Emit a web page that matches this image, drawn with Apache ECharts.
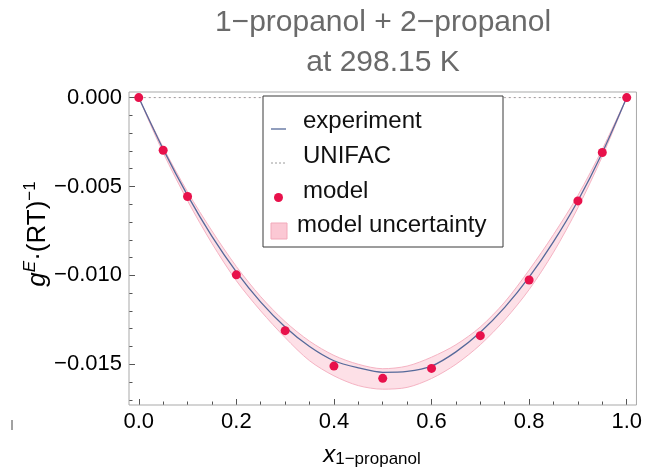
<!DOCTYPE html>
<html><head><meta charset="utf-8">
<script src="https://cdn.jsdelivr.net/npm/echarts@6/dist/echarts.min.js"></script>
<style>html,body{margin:0;padding:0;background:#fff}#c{width:645px;height:470px}</style>
</head><body><div id="c"></div>
<script>
// ---- data ----
const xFine = [0,0.05,0.1,0.15,0.2,0.25,0.3,0.35,0.4,0.45,0.5,0.55,0.6,0.65,0.7,0.75,0.8,0.85,0.9,0.95,1.0];
const gExperiment = [0,-0.0029,-0.0055,-0.0078,-0.0098,-0.0115,-0.0129,-0.0140,-0.0148,-0.0152,-0.01545,-0.0154,-0.0151,-0.0143,-0.0132,-0.0118,-0.0101,-0.0081,-0.0058,-0.0031,0];
const gUnifac = [0,0,0,0,0,0,0,0,0,0,0,0,0,0,0,0,0,0,0,0,0];
const bandUpper = [0,-0.0028,-0.0053,-0.0075,-0.0095,-0.0112,-0.0126,-0.0137,-0.0145,-0.0150,-0.01525,-0.0151,-0.0146,-0.0139,-0.0129,-0.0115,-0.0097,-0.0077,-0.0055,-0.0029,0];
const bandLower = [0,-0.0031,-0.0058,-0.0082,-0.0103,-0.0120,-0.0135,-0.0148,-0.01565,-0.0162,-0.0164,-0.0163,-0.0158,-0.0150,-0.0139,-0.0125,-0.0108,-0.0087,-0.0062,-0.0033,0];
const xModel = [0,0.05,0.1,0.2,0.3,0.4,0.5,0.6,0.7,0.8,0.9,0.95,1.0];
const gModel = [0,-0.00296,-0.00556,-0.00997,-0.01311,-0.01510,-0.01579,-0.01523,-0.01339,-0.01026,-0.00581,-0.00309,0];
const xMajorTicks = [0,0.2,0.4,0.6,0.8,1.0];
const xMinorTicks = [0.05,0.1,0.15,0.25,0.3,0.35,0.45,0.5,0.55,0.65,0.7,0.75,0.85,0.9,0.95];
const yMajorTicks = [-0.015,-0.010,-0.005,0];
const yMinorTicks = [-0.017,-0.016,-0.014,-0.013,-0.012,-0.011,-0.009,-0.008,-0.007,-0.006,-0.004,-0.003,-0.002,-0.001];
const titleLines = ['1\u2212propanol + 2\u2212propanol','at 298.15 K'];
const legendNames = ['experiment','UNIFAC','model','model uncertainty'];

const FONT = '"Liberation Sans", Arial, sans-serif';
const pair = (xs, ys) => xs.map((x,i)=>[x, ys[i]]);
const fmtY = v => { const s = Math.abs(v).toFixed(3); return (v < -1e-9 ? '\u2212' : '') + s; };
const fmtX = v => v.toFixed(1);

const XMIN=-0.02, XMAX=1.02, YMIN=-0.01729, YMAX=0.000315;
const tickColor = '#555';
const chart = echarts.init(document.getElementById('c'), null, {renderer:'canvas'});

const legendTexts = {fill:'#111', fontSize:24, fontFamily:FONT};
const bandEdge = '#f5b3c3';
chart.setOption({
  animation:false,
  backgroundColor:'#fff',
  grid:{left:129, right:8, top:92, bottom:65, show:true, borderColor:'#a9a9a9', borderWidth:1, backgroundColor:'transparent', z:10},
  xAxis:[
    {type:'value', min:XMIN, max:XMAX, position:'bottom',
     axisLine:{show:false, onZero:false}, splitLine:{show:false},
     axisTick:{show:true, inside:true, length:6, customValues:xMajorTicks, lineStyle:{color:tickColor}},
     axisLabel:{show:true, customValues:xMajorTicks, formatter:fmtX, margin:6, color:'#000', fontSize:22, fontFamily:FONT}},
    {type:'value', min:XMIN, max:XMAX, position:'bottom',
     axisLine:{show:false, onZero:false}, splitLine:{show:false},
     axisTick:{show:true, inside:true, length:3.5, customValues:xMinorTicks, lineStyle:{color:tickColor}},
     axisLabel:{show:false}}
  ],
  yAxis:[
    {type:'value', min:YMIN, max:YMAX, position:'left',
     axisLine:{show:false, onZero:false}, splitLine:{show:false},
     axisTick:{show:true, inside:true, length:6, customValues:yMajorTicks, lineStyle:{color:tickColor}},
     axisLabel:{show:true, customValues:yMajorTicks, formatter:fmtY, margin:7, color:'#000', fontSize:22, fontFamily:FONT}},
    {type:'value', min:YMIN, max:YMAX, position:'left',
     axisLine:{show:false, onZero:false}, splitLine:{show:false},
     axisTick:{show:true, inside:true, length:3.5, customValues:yMinorTicks, lineStyle:{color:tickColor}},
     axisLabel:{show:false}}
  ],
  series:[
    // uncertainty band: pink area down to the lower edge, then the part above the upper edge is restored to white
    {name:legendNames[3], type:'line', data:pair(xFine, bandLower), smooth:0.3, symbol:'none',
     lineStyle:{color:bandEdge, width:1}, areaStyle:{color:'#fde0e7', opacity:1, origin:0}, z:1, silent:true},
    {name:'bandUpper', type:'line', data:pair(xFine, bandUpper), smooth:0.3, symbol:'none',
     lineStyle:{color:bandEdge, width:1}, areaStyle:{color:'#ffffff', opacity:1, origin:0}, z:1.5, silent:true},
    {name:legendNames[1], type:'line', data:pair(xFine, gUnifac), symbol:'none',
     lineStyle:{color:'#9a9a9a', width:1, type:[2,3]}, z:2},
    {name:legendNames[0], type:'line', data:pair(xFine, gExperiment), smooth:0.3, symbol:'none',
     lineStyle:{color:'#56699a', width:1.3}, z:3},
    {name:legendNames[2], type:'scatter', data:pair(xModel, gModel), symbol:'circle', symbolSize:9,
     itemStyle:{color:'#e8114b', opacity:1}, z:4}
  ],
  graphic:[
    {type:'text', x:383, y:43, style:{text:titleLines.join('\n'), fill:'#6a6a6a', fontSize:30, fontFamily:FONT, lineHeight:40, align:'center', verticalAlign:'middle', textAlign:'center', textVerticalAlign:'middle'}},
    // y axis title
    {type:'text', x:38, y:234, rotation:Math.PI/2,
     style:{text:'{i|g}{si|E}{n|\u00b7(RT)}{s|\u22121}', align:'center', verticalAlign:'middle', textAlign:'center', textVerticalAlign:'middle', fill:'#000',
       rich:{i:{fontStyle:'italic', fontSize:26, lineHeight:32, fontFamily:FONT, fill:'#000'},
             si:{fontStyle:'italic', fontSize:17, lineHeight:17, verticalAlign:'top', fontFamily:FONT, fill:'#000'},
             n:{fontSize:26, lineHeight:32, fontFamily:FONT, fill:'#000'},
             s:{fontSize:17, lineHeight:17, verticalAlign:'top', fontFamily:FONT, fill:'#000'}}}},
    // x axis title
    {type:'text', x:372, y:455,
     style:{text:'{i|x}{sub|1\u2212propanol}', align:'center', verticalAlign:'middle', textAlign:'center', textVerticalAlign:'middle', fill:'#000',
       rich:{i:{fontStyle:'italic', fontSize:24, lineHeight:26, fontFamily:FONT, fill:'#000'},
             sub:{fontSize:17, lineHeight:17, verticalAlign:'bottom', fontFamily:FONT, fill:'#000'}}}},
    // legend
    {type:'rect', shape:{x:263, y:96, width:240, height:151}, style:{fill:'#fff', stroke:'#3a3a3a', lineWidth:1}, z:50},
    {type:'line', shape:{x1:271, y1:129, x2:286, y2:129}, style:{stroke:'#56699a', lineWidth:1.3}, z:51},
    {type:'text', x:303, y:121.5, style:Object.assign({text:legendNames[0], verticalAlign:'middle', textVerticalAlign:'middle'}, legendTexts), z:51},
    {type:'line', shape:{x1:271, y1:163, x2:286, y2:163}, style:{stroke:'#9a9a9a', lineWidth:1, lineDash:[2,2]}, z:51},
    {type:'text', x:303, y:156.7, style:Object.assign({text:legendNames[1], verticalAlign:'middle', textVerticalAlign:'middle'}, legendTexts), z:51},
    {type:'circle', shape:{cx:278.5, cy:197.5, r:4.5}, style:{fill:'#e8114b'}, z:51},
    {type:'text', x:303, y:191.5, style:Object.assign({text:legendNames[2], verticalAlign:'middle', textVerticalAlign:'middle'}, legendTexts), z:51},
    {type:'rect', shape:{x:271, y:223, width:16, height:16}, style:{fill:'#fbc8d4', stroke:'#f2a9ba', lineWidth:1}, z:51},
    {type:'text', x:297, y:225.5, style:Object.assign({text:legendNames[3], verticalAlign:'middle', textVerticalAlign:'middle'}, legendTexts), z:51},
    // stray mark at bottom-left of the reference
    {type:'line', shape:{x1:12, y1:420, x2:12, y2:430}, style:{stroke:'#444', lineWidth:1}}
  ]
});
</script>
</body></html>
